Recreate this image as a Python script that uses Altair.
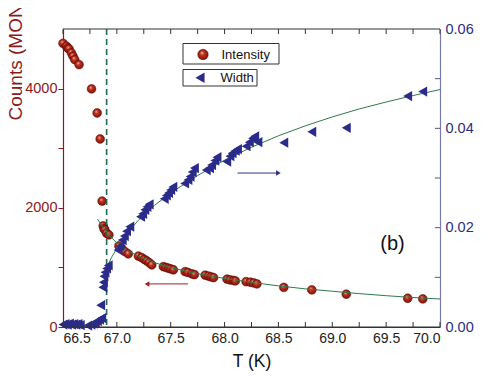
import altair as alt
import pandas as pd

# ---------------- data ----------------
int_T = [66.50, 66.532, 66.545, 66.556, 66.578, 66.593, 66.609, 66.649,
         66.765, 66.817, 66.845, 66.863, 66.873, 66.881, 66.889, 66.904, 66.926,
         67.019, 67.045, 67.075, 67.106,
         67.20, 67.23, 67.255, 67.277, 67.30, 67.324,
         67.432, 67.455, 67.479, 67.50, 67.525,
         67.634, 67.66, 67.697, 67.72,
         67.82, 67.85, 67.875, 67.898,
         68.023, 68.05, 68.08, 68.10,
         68.20, 68.24, 68.27, 68.30,
         68.55, 68.81, 69.13, 69.70, 69.84]
int_C = [4760, 4711, 4680, 4667, 4600, 4543, 4487, 4403,
         3995, 3591, 3155, 2113, 1697, 1650, 1630, 1575, 1546,
         1361, 1320, 1266, 1227,
         1190, 1165, 1135, 1110, 1080, 1042,
         1013, 1000, 986, 975, 960,
         929, 915, 891, 880,
         869, 855, 840, 829,
         802, 790, 782, 773,
         760, 751, 740, 723,
         664, 622, 550, 482, 471]

wid_T = [66.50, 66.52, 66.54, 66.56, 66.58, 66.60, 66.62, 66.64, 66.66,
         66.73, 66.76, 66.78, 66.80, 66.82, 66.84, 66.86,
         66.85, 66.87, 66.875, 66.88, 66.89, 66.905, 66.92,
         67.01, 67.03, 67.05, 67.07, 67.09, 67.12,
         67.22, 67.24, 67.26, 67.28, 67.30,
         67.44, 67.46, 67.48, 67.50, 67.52,
         67.63, 67.66, 67.68, 67.70, 67.72,
         67.83, 67.86, 67.88, 67.91, 67.93,
         68.02, 68.05, 68.07, 68.10, 68.12,
         68.20, 68.23, 68.26, 68.28, 68.31,
         68.55, 68.81, 69.13, 69.70, 69.84]
wid_W = [0.0005, 0.0006, 0.0005, 0.0007, 0.0005, 0.0006, 0.0005, 0.0006, 0.0004,
         0.0003, 0.0005, 0.0007, 0.0009, 0.0012, 0.0015, 0.0018,
         0.0044, 0.0080, 0.0090, 0.0102, 0.0110, 0.0118, 0.0124,
         0.0155, 0.0163, 0.0175, 0.0183, 0.0193, 0.0202,
         0.0222, 0.0228, 0.0236, 0.0242, 0.0247,
         0.0258, 0.0265, 0.0270, 0.0276, 0.0282,
         0.0289, 0.0296, 0.0303, 0.0312, 0.0320,
         0.0316, 0.0320, 0.0326, 0.0335, 0.0342,
         0.0333, 0.0344, 0.0350, 0.0355, 0.0358,
         0.0364, 0.0372, 0.0380, 0.0384, 0.0372,
         0.0371, 0.0393, 0.0401, 0.0465, 0.0474]

fitI_T = [66.82, 66.86, 66.90, 66.95, 67.00, 67.10, 67.20, 67.35, 67.50, 67.75,
          68.00, 68.25, 68.50, 68.75, 69.00, 69.25, 69.50, 69.75, 70.00]
fitI_C = [1810, 1700, 1610, 1500, 1410, 1280, 1190, 1080, 995, 895,
          815, 750, 690, 640, 600, 560, 525, 495, 470]

fitW_T = [66.905, 66.95, 67.00, 67.10, 67.20, 67.35, 67.50, 67.75, 68.00, 68.25,
          68.50, 68.75, 69.00, 69.25, 69.50, 69.75, 70.00]
fitW_W = [0.0118, 0.0140, 0.0158, 0.0190, 0.0215, 0.0245, 0.0270, 0.0305, 0.0336, 0.0362,
          0.0385, 0.0405, 0.0423, 0.0439, 0.0453, 0.0466, 0.0478]

Tc = [66.905]

arrowI_T = [67.28, 67.66]
arrowI_C = [723, 723]
arrowW_T = [68.12, 68.50]
arrowW_W = [0.031, 0.031]

x_label_vals = [66.5, 67.0, 67.5, 68.0, 68.5, 69.0, 69.5, 70.0]
x_tick_vals = [66.5, 66.75, 67.0, 67.25, 67.5, 67.75, 68.0, 68.25, 68.5,
               68.75, 69.0, 69.25, 69.5, 69.75, 70.0]
yL_tick_vals = [0, 1000, 2000, 3000, 4000]
yR_label_vals = [0.0, 0.02, 0.04, 0.06]
yR_tick_vals = [0.01, 0.02, 0.03, 0.04, 0.05]

# ---------------- styling ----------------
W, H = 377, 298
RED = "#8b1a1a"
BLUE_AX = "#2e2e80"
BLUE = "#2b2b8a"
GREEN = "#2f7a4a"
DASH = "#1f6b55"

xs = alt.Scale(domain=[66.5, 70.0], nice=False, zero=False)
ysL = alt.Scale(domain=[0, 5000], nice=False, zero=True)
ysR = alt.Scale(domain=[0, 0.06], nice=False, zero=True)

dfI = pd.DataFrame({"T": int_T, "C": int_C})
dfW = pd.DataFrame({"T": wid_T, "W": wid_W})
dfFI = pd.DataFrame({"T": fitI_T, "C": fitI_C})
dfFW = pd.DataFrame({"T": fitW_T, "W": fitW_W})
dfTc = pd.DataFrame({"T": Tc})
dfAI = pd.DataFrame({"T": arrowI_T, "C": arrowI_C})
dfAW = pd.DataFrame({"T": arrowW_T, "W": arrowW_W})
dfXT = pd.DataFrame({"T": x_tick_vals})
dfRT = pd.DataFrame({"W": yR_tick_vals})
one = pd.DataFrame({"k": [0]})

sphere = alt.RadialGradient(
    gradient="radial",
    stops=[alt.GradientStop(color="#ffcab0", offset=0.0),
           alt.GradientStop(color="#c2321e", offset=0.35),
           alt.GradientStop(color="#780e08", offset=1.0)],
    x1=0.38, y1=0.32, r1=0.0, x2=0.5, y2=0.5, r2=0.55)

noX = alt.X("T:Q", scale=xs, axis=None)

# x axis carrier (labels + title), invisible marks
xaxis = alt.Chart(dfXT).mark_rule(opacity=0).encode(
    x=alt.X("T:Q", scale=xs, axis=alt.Axis(
        values=x_label_vals, format=".1f", ticks=False, tickSize=0, labelPadding=4,
        labelColor="#222", labelFontSize=14, domainColor="#333", domainWidth=1.2,
        grid=False, title="T (K)", titleFontSize=17.5, titleFontWeight="normal",
        titleColor="#111", titlePadding=7)))

dashed = alt.Chart(dfTc).mark_rule(color=DASH, strokeDash=[6, 4], strokeWidth=1.6).encode(x=noX)

fitI = alt.Chart(dfFI).mark_line(color=GREEN, strokeWidth=1).encode(
    x=noX, y=alt.Y("C:Q", scale=ysL, axis=None))
fitW = alt.Chart(dfFW).mark_line(color=GREEN, strokeWidth=1).encode(
    x=noX, y=alt.Y("W:Q", scale=ysR, axis=None))

ptsW = alt.Chart(dfW).mark_point(shape="triangle-left", filled=True, size=105,
                                 color=BLUE, opacity=1).encode(
    x=noX,
    y=alt.Y("W:Q", scale=ysR, axis=alt.Axis(
        orient="right", values=yR_label_vals, format=".2f", ticks=False, tickSize=0,
        labelPadding=5, labelColor=BLUE_AX, labelFontSize=14.5, domainColor="#7a7aa8",
        domainWidth=1.2, grid=False, title=None)))

ptsI = alt.Chart(dfI).mark_circle(size=78, fill=sphere, stroke="#5a0c08",
                                  strokeWidth=0.5, opacity=1).encode(
    x=noX,
    y=alt.Y("C:Q", scale=ysL, axis=alt.Axis(
        values=yL_tick_vals, format="d",
        labelExpr="datum.value % 2000 == 0 ? datum.label : ''",
        tickSize=5, tickColor=RED, labelPadding=1, labelColor=RED, labelFontSize=14.5,
        domainColor=RED, domainWidth=1.2, grid=False,
        title="Counts (MON=", titleColor=RED, titleFontSize=19, titleFontWeight="normal",
        titleAngle=-90, titleAlign="left", titleBaseline="alphabetic",
        titleX=-42, titleY=91)))

# inward ticks / frame
botT = alt.Chart(dfXT).mark_rule(color="#333", strokeWidth=1).encode(
    x=noX, y=alt.value(H), y2=alt.value(H - 5))
topT = alt.Chart(dfXT).mark_rule(color="#333", strokeWidth=1).encode(
    x=noX, y=alt.value(0), y2=alt.value(5))
topLine = alt.Chart(one).mark_rule(color="#333", strokeWidth=1.2).encode(
    x=alt.value(0), x2=alt.value(W), y=alt.value(0))
botLine = alt.Chart(one).mark_rule(color="#333", strokeWidth=1.2).encode(
    x=alt.value(0), x2=alt.value(W), y=alt.value(H))
rightT = alt.Chart(dfRT).mark_rule(color="#555580", strokeWidth=1).encode(
    y=alt.Y("W:Q", scale=ysR, axis=None), x=alt.value(W), x2=alt.value(W - 5))

# arrows
arrI = alt.Chart(dfAI).mark_line(color="#a32020", strokeWidth=1).encode(
    x=noX, y=alt.Y("C:Q", scale=ysL, axis=None))
headI = alt.Chart(dfAI.iloc[[0]]).mark_point(shape="triangle-left", filled=True, size=30,
                                            color="#a32020", opacity=1).encode(
    x=noX, y=alt.Y("C:Q", scale=ysL, axis=None))
arrW = alt.Chart(dfAW).mark_line(color="#303090", strokeWidth=1).encode(
    x=noX, y=alt.Y("W:Q", scale=ysR, axis=None))
headW = alt.Chart(dfAW.iloc[[1]]).mark_point(shape="triangle-right", filled=True, size=30,
                                            color="#303090", opacity=1).encode(
    x=noX, y=alt.Y("W:Q", scale=ysR, axis=None))

# legend (drawn by hand, two boxes)
box1 = alt.Chart(one).mark_rect(fill="white", stroke="#333", strokeWidth=1).encode(
    x=alt.value(120), x2=alt.value(216), y=alt.value(14.5), y2=alt.value(35))
box2 = alt.Chart(one).mark_rect(fill="white", stroke="#333", strokeWidth=1).encode(
    x=alt.value(120), x2=alt.value(194), y=alt.value(40.5), y2=alt.value(57))
legS = alt.Chart(one).mark_circle(size=110, fill=sphere, stroke="#5a0c08",
                                  strokeWidth=0.5, opacity=1).encode(
    x=alt.value(140), y=alt.value(25.5))
legT = alt.Chart(one).mark_point(shape="triangle-left", filled=True, size=110,
                                 color=BLUE, opacity=1).encode(
    x=alt.value(137), y=alt.value(48.7))
legTx1 = alt.Chart(one).mark_text(align="left", baseline="middle", fontSize=13,
                                  color="#111").encode(
    x=alt.value(158.5), y=alt.value(25.5), text=alt.value("Intensity"))
legTx2 = alt.Chart(one).mark_text(align="left", baseline="middle", fontSize=13,
                                  color="#111").encode(
    x=alt.value(157.5), y=alt.value(49), text=alt.value("Width"))
panel = alt.Chart(one).mark_text(align="center", baseline="middle", fontSize=20,
                                 color="#111").encode(
    x=alt.value(329.5), y=alt.value(215), text=alt.value("(b)"))

chart = alt.layer(
    xaxis, ptsI, dashed, fitI, fitW, ptsW, botT, topT, topLine, botLine, rightT,
    arrI, headI, arrW, headW, box1, box2, legS, legT, legTx1, legTx2, panel,
).resolve_scale(y="independent").resolve_axis(x="independent").properties(
    width=W, height=H,
    autosize=alt.AutoSizeParams(type="none"),
    padding={"left": 55, "top": 21, "right": 38, "bottom": 44},
).configure(font="Liberation Sans").configure_view(stroke=None)

chart.save("out.html", embed_options={"renderer": "svg", "actions": False})
